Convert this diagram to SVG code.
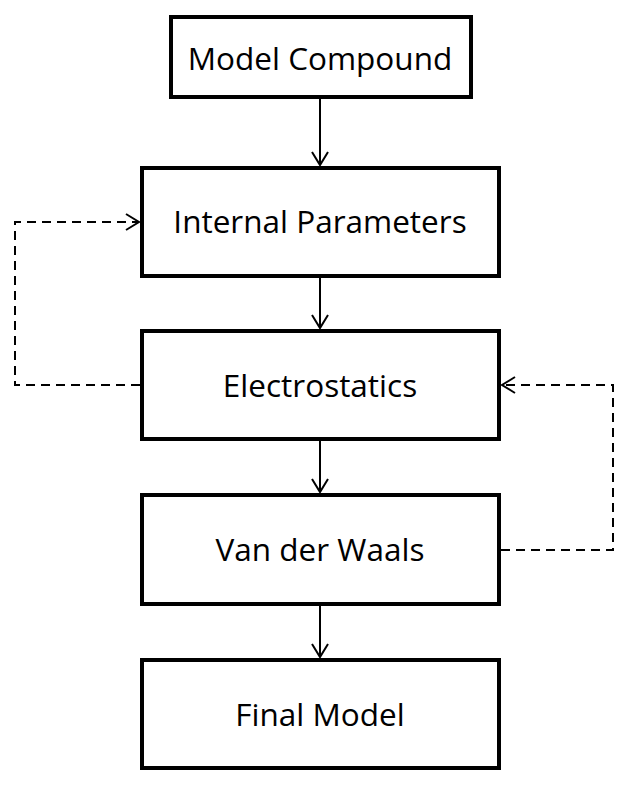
<svg xmlns="http://www.w3.org/2000/svg" width="629" height="786" viewBox="0 0 629 786">
<style>
.box{fill:#fff;stroke:#000;stroke-width:4}
.lbl{font-family:"Open Sans","Liberation Sans",sans-serif;font-size:31.5px;fill:#000;text-anchor:middle}
.arr{fill:none;stroke:#000;stroke-width:2}
.dash{fill:none;stroke:#000;stroke-width:2;stroke-dasharray:9 6}
</style>
<defs>
<marker id="ah" markerWidth="18" markerHeight="18" refX="15" refY="9" orient="auto" markerUnits="userSpaceOnUse">
<path d="M2,1 L15,9 L2,17" fill="none" stroke="#000" stroke-width="2"/>
</marker>
</defs>
<rect width="629" height="786" fill="#fff"/>
<g id="connectors">
<line class="arr" x1="320" y1="97" x2="320" y2="165" marker-end="url(#ah)"/>
<line class="arr" x1="320" y1="276" x2="320" y2="328" marker-end="url(#ah)"/>
<line class="arr" x1="320" y1="439" x2="320" y2="492" marker-end="url(#ah)"/>
<line class="arr" x1="320" y1="604" x2="320" y2="657" marker-end="url(#ah)"/>
<path class="dash" d="M140,385 H15 V222 H139" marker-end="url(#ah)"/>
<path class="dash" d="M501,550 H613 V385 H502" marker-end="url(#ah)"/>
</g>
<g id="model-compound">
<rect class="box" x="171" y="17" width="300" height="80"/>
<text class="lbl" x="320" y="70">Model Compound</text>
</g>
<g id="internal-parameters">
<rect class="box" x="142" y="168" width="357" height="108"/>
<text class="lbl" x="320" y="233">Internal Parameters</text>
</g>
<g id="electrostatics">
<rect class="box" x="142" y="331" width="357" height="108"/>
<text class="lbl" x="320" y="397">Electrostatics</text>
</g>
<g id="van-der-waals">
<rect class="box" x="142" y="495" width="357" height="109"/>
<text class="lbl" x="320" y="561">Van der Waals</text>
</g>
<g id="final-model">
<rect class="box" x="142" y="660" width="357" height="108"/>
<text class="lbl" x="320" y="726">Final Model</text>
</g>
</svg>
